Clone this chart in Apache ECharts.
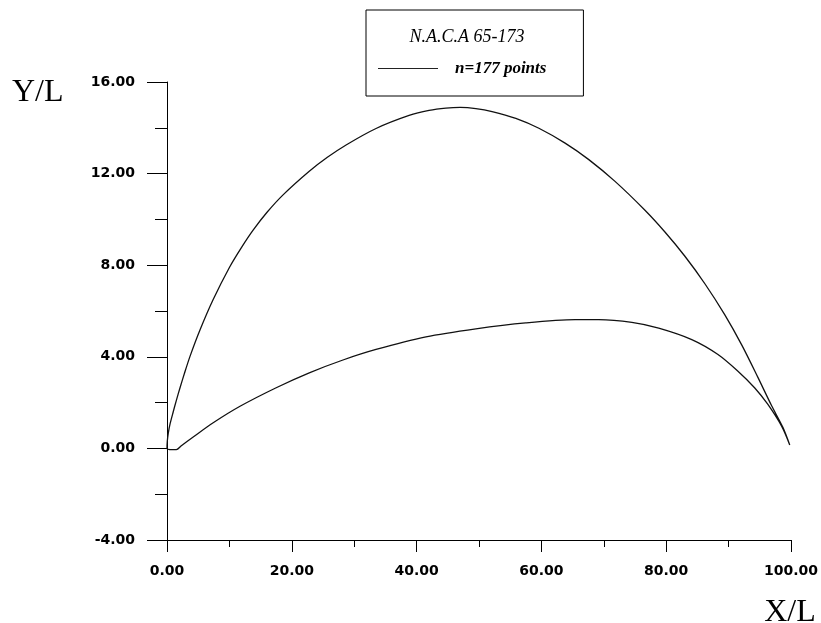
<!DOCTYPE html>
<html>
<head>
<meta charset="utf-8">
<title>N.A.C.A 65-173</title>
<script src="https://cdn.jsdelivr.net/npm/echarts@6/dist/echarts.min.js"></script>
<style>
  html, body { margin: 0; padding: 0; background: #fff; }
  #chart { width: 821px; height: 623px; }
</style>
</head>
<body>
<div id="chart"></div>
<script>
// Profile coordinates (percent of chord), leading edge -> trailing edge
const upperX = [0, 0.05, 0.2, 0.5, 1.0, 1.5, 2.1, 2.8, 3.7, 5.3, 7.4, 10.0, 12.0, 13.8, 16.0, 18.6,
  22.8, 25.7, 28.7, 33.5, 38.8, 42.0, 44.7, 47.0, 49.5, 52.1, 55.9, 59.6, 63.8, 67.6, 71.8,
  76.6, 79.8, 83.0, 86.2, 89.4, 92.1, 94.7, 96.9, 98.7, 99.8];
const upperY = [0, 0.32, 0.66, 1.08, 1.6, 2.1, 2.66, 3.28, 4.03, 5.18, 6.5, 7.9, 8.8, 9.53, 10.3, 11.07,
  12.1, 12.71, 13.25, 13.97, 14.54, 14.76, 14.86, 14.89, 14.84, 14.71, 14.41, 13.98, 13.33, 12.61, 11.66,
  10.4, 9.45, 8.39, 7.19, 5.83, 4.52, 3.1, 1.86, 0.92, 0.15];

const lowerX = [0, 0.8, 1.5, 2.3, 4.2, 7.4, 11.7, 17.5, 22.8, 28.2, 33.5, 41.5, 49.5, 57.5, 65.4, 69.2,
  74.5, 78.8, 84.1, 88.3, 91.5, 94.2, 96.3, 98.5, 99.8];
const lowerY = [0, -0.05, -0.05, 0.12, 0.5, 1.12, 1.84, 2.65, 3.30, 3.86, 4.32, 4.87, 5.22, 5.48, 5.62, 5.62,
  5.50, 5.25, 4.75, 4.1, 3.37, 2.64, 1.92, 0.97, 0.15];

const xTicks = [0, 20, 40, 60, 80, 100];
const yTicks = [-4, 0, 4, 8, 12, 16];

const profileTitle = 'N.A.C.A 65-173';
const seriesName = 'n=177 points';
const xName = 'X/L';
const yName = 'Y/L';

// One closed contour: trailing edge -> upper surface -> leading edge -> lower surface
const upperPts = upperX.map((x, i) => [x, upperY[i]]).reverse();
const lowerPts = lowerX.map((x, i) => [x, lowerY[i]]).slice(1);
const contour = upperPts.concat(lowerPts);

const labelFont = {
  fontFamily: 'DejaVu Sans',
  fontWeight: 'bold',
  fontSize: 14,
  color: '#000'
};
const black = { color: '#000', width: 1 };

const chart = echarts.init(document.getElementById('chart'), null, { renderer: 'canvas' });
chart.setOption({
  animation: false,
  backgroundColor: '#fff',
  grid: { left: 167, right: 28, top: 82, bottom: 83, containLabel: false },
  graphic: [
    {
      type: 'text',
      x: 467,
      y: 37,
      style: {
        text: profileTitle,
        align: 'center',
        verticalAlign: 'middle',
        font: 'italic 18px "Liberation Serif"',
        fill: '#000'
      }
    },
    {
      type: 'text',
      x: 12,
      y: 93,
      style: {
        text: yName,
        align: 'left',
        verticalAlign: 'middle',
        font: '32px "Liberation Serif"',
        fill: '#000'
      }
    },
    {
      type: 'text',
      x: 790,
      y: 613,
      style: {
        text: xName,
        align: 'center',
        verticalAlign: 'middle',
        font: '32px "Liberation Serif"',
        fill: '#000'
      }
    }
  ],
  legend: {
    data: [seriesName],
    left: 366,
    top: 10,
    padding: [50, 37, 19, 12],
    icon: 'rect',
    itemWidth: 60,
    itemHeight: 1,
    borderColor: '#000',
    borderWidth: 1,
    selectedMode: false,
    itemStyle: { color: '#222' },
    textStyle: {
      fontFamily: 'Liberation Serif',
      fontStyle: 'italic',
      fontWeight: 'bold',
      fontSize: 17,
      color: '#000',
      padding: [0, 0, 0, 12]
    }
  },
  xAxis: {
    type: 'value',
    min: xTicks[0],
    max: xTicks[xTicks.length - 1],
    interval: 20,
    axisLine: { show: true, onZero: false, lineStyle: black },
    axisTick: { show: true, length: 12, lineStyle: black },
    minorTick: { show: true, splitNumber: 2, length: 7, lineStyle: black },
    splitLine: { show: false },
    axisLabel: Object.assign({ margin: 24, formatter: v => v.toFixed(2) }, labelFont)
  },
  yAxis: {
    type: 'value',
    min: yTicks[0],
    max: yTicks[yTicks.length - 1],
    interval: 4,
    axisLine: { show: true, onZero: false, lineStyle: black },
    axisTick: { show: true, length: 20, lineStyle: black },
    minorTick: { show: true, splitNumber: 2, length: 12, lineStyle: black },
    splitLine: { show: false },
    axisLabel: Object.assign({ margin: 32, formatter: v => v.toFixed(2) }, labelFont)
  },
  series: [{
    name: seriesName,
    type: 'line',
    data: contour,
    showSymbol: false,
    symbol: 'none',
    smooth: 0.3,
    lineStyle: { color: '#111', width: 1.3 },
    itemStyle: { color: '#111' }
  }]
});
</script>
</body>
</html>
